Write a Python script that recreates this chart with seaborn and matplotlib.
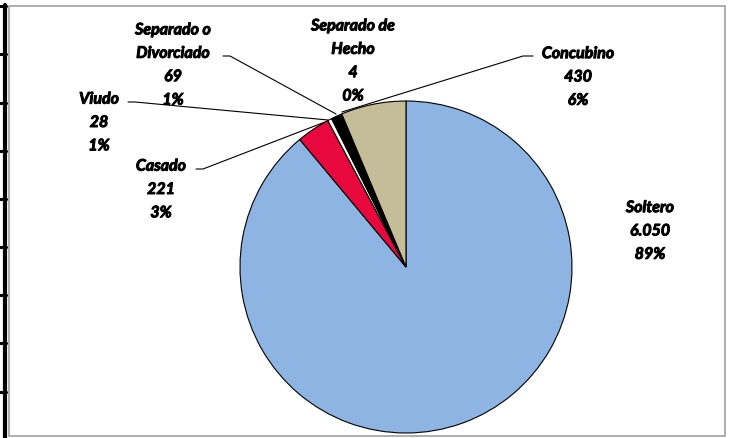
import matplotlib
matplotlib.use("Agg")
import matplotlib.pyplot as plt
import matplotlib.patheffects as pe
import seaborn as sns
from matplotlib.lines import Line2D
from matplotlib.patches import Rectangle

# datos del gráfico (estado civil)
categorias = ['Soltero', 'Casado', 'Viudo', 'Separado o\nDivorciado', 'Separado de\nHecho', 'Concubino']
cantidades = [6050, 221, 28, 69, 4, 430]
cantidades_txt = ['6.050', '221', '28', '69', '4', '430']
porcentajes_txt = ['89%', '3%', '1%', '1%', '0%', '6%']
colores = ['#8EB4E3', '#E8083E', '#FFFFFF', '#000000', '#7F7F7F', '#C4BD97']

sns.set_theme(style="white")
plt.rcParams['font.family'] = ['Lato', 'DejaVu Sans']

W, H = 729, 439
fig = plt.figure(figsize=(W / 100, H / 100), dpi=100)
ax = fig.add_axes([0, 0, 1, 1])


def py(y):
    # pixel (desde arriba) -> coordenada de datos
    return H - y


ax.pie(cantidades, colors=colores, startangle=90, counterclock=False,
       center=(406, py(268)), radius=166,
       wedgeprops=dict(edgecolor='black', linewidth=0.8))
ax.set_xlim(0, W)
ax.set_ylim(0, H)
ax.set_aspect('equal', adjustable='box')
ax.axis('off')

# posiciones de etiquetas (centro del bloque de texto) en pixeles
pos_etiquetas = [(650, 232.5), (161, 191), (99, 124), (173, 66.5), (353, 62.5), (578, 78.5)]
for cat, ctxt, ptxt, (x, y) in zip(categorias, cantidades_txt, porcentajes_txt, pos_etiquetas):
    ax.text(x, py(y), f"{cat}\n{ctxt}\n{ptxt}", ha='center', va='center',
            fontsize=11.5, fontweight='bold', fontstyle='italic', linespacing=1.85,
            color='black',
            path_effects=[pe.withStroke(linewidth=0.7, foreground='black')])

# líneas guía (etiqueta -> sector)
guias = [
    [(196, 170), (203, 170), (325, 123)],   # Casado
    [(128, 103), (135, 103), (328, 121)],   # Viudo
    [(223, 57), (230, 57), (336, 115)],     # Separado o Divorciado
    [(533, 57), (523, 57), (342, 113)],     # Concubino
]
for g in guias:
    ax.plot([p[0] for p in g], [py(p[1]) for p in g], color='black', lw=0.8)

# marco del gráfico
ax.add_patch(Rectangle((9, py(437)), 716, 430, fill=False, edgecolor='#A0A0A0', lw=1.2))

# borde de celda a la izquierda
fig.add_artist(Line2D([5 / W, 5 / W], [0, py(6) / H], color='black', lw=3))
for yy in [7, 55, 104, 152, 200, 248, 296, 344, 393]:
    fig.add_artist(Line2D([0, 6 / W], [py(yy) / H, py(yy) / H], color='black', lw=2.2))

fig.savefig('out.png', dpi=100)
